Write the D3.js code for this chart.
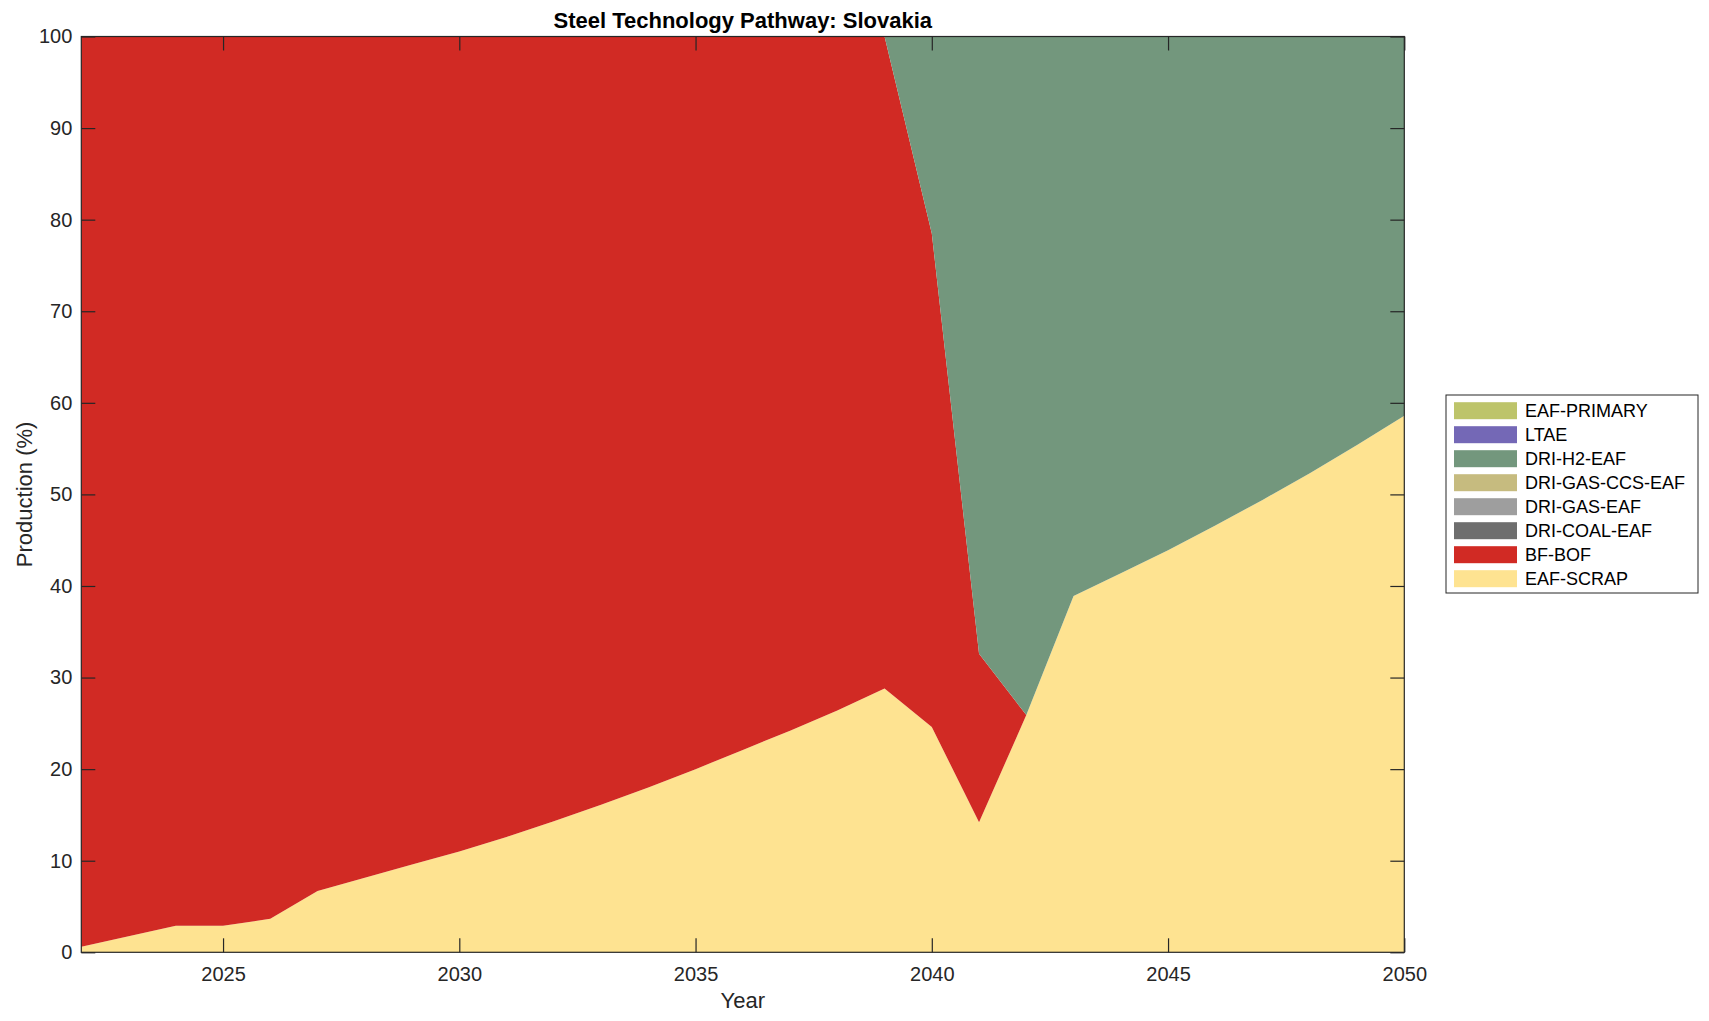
<!DOCTYPE html>
<html>
<head>
<meta charset="utf-8">
<script src="https://cdn.jsdelivr.net/npm/d3@7"></script>
<style>
  body { margin: 0; background: #fff; }
  text { font-family: "Liberation Sans", Arial, Helvetica, sans-serif; }
</style>
</head>
<body>
<div id="grafica"></div>
<script>
// Datos (porcentaje de produccion por tecnologia)
var years = [2022, 2023, 2024, 2025, 2026, 2027, 2028, 2029, 2030, 2031,
             2032, 2033, 2034, 2035, 2036, 2037, 2038, 2039, 2040, 2041,
             2042, 2043, 2044, 2045, 2046, 2047, 2048, 2049, 2050];

var eafScrap = [0.6, 1.75, 2.9, 2.9, 3.65, 6.7, 8.15, 9.6, 11.0, 12.6,
                14.3, 16.1, 18.0, 20.0, 22.1, 24.2, 26.4, 28.8, 24.6, 14.2,
                25.9, 38.9, 41.4, 43.9, 46.6, 49.4, 52.3, 55.4, 58.6];

var bfBof = [99.4, 98.25, 97.1, 97.1, 96.35, 93.3, 91.85, 90.4, 89.0, 87.4,
             85.7, 83.9, 82.0, 80.0, 77.9, 75.8, 73.6, 71.2, 53.9, 18.4,
             0, 0, 0, 0, 0, 0, 0, 0, 0];

var driCoal = [0, 0, 0, 0, 0, 0, 0, 0, 0, 0, 0, 0, 0, 0, 0,
               0, 0, 0, 0, 0, 0, 0, 0, 0, 0, 0, 0, 0, 0];
var driGas = [0, 0, 0, 0, 0, 0, 0, 0, 0, 0, 0, 0, 0, 0, 0,
              0, 0, 0, 0, 0, 0, 0, 0, 0, 0, 0, 0, 0, 0];
var driGasCcs = [0, 0, 0, 0, 0, 0, 0, 0, 0, 0, 0, 0, 0, 0, 0,
                 0, 0, 0, 0, 0, 0, 0, 0, 0, 0, 0, 0, 0, 0];

var driH2 = [0, 0, 0, 0, 0, 0, 0, 0, 0, 0,
             0, 0, 0, 0, 0, 0, 0, 0, 21.5, 67.4,
             74.1, 61.1, 58.6, 56.1, 53.4, 50.6, 47.7, 44.6, 41.4];

var ltae = [0, 0, 0, 0, 0, 0, 0, 0, 0, 0, 0, 0, 0, 0, 0,
            0, 0, 0, 0, 0, 0, 0, 0, 0, 0, 0, 0, 0, 0];
var eafPrimary = [0, 0, 0, 0, 0, 0, 0, 0, 0, 0, 0, 0, 0, 0, 0,
                  0, 0, 0, 0, 0, 0, 0, 0, 0, 0, 0, 0, 0, 0];

// orden de apilado, de abajo hacia arriba
var techNames = ["EAF-SCRAP", "BF-BOF", "DRI-COAL-EAF", "DRI-GAS-EAF",
                 "DRI-GAS-CCS-EAF", "DRI-H2-EAF", "LTAE", "EAF-PRIMARY"];
var techValues = [eafScrap, bfBof, driCoal, driGas, driGasCcs, driH2, ltae, eafPrimary];
var techColors = ["#fee391", "#d12a24", "#6e6e6e", "#9e9e9e",
                  "#c6bb7f", "#73977d", "#7468b6", "#bdc46a"];

var xTicks = [2025, 2030, 2035, 2040, 2045, 2050];
var yTicks = [0, 10, 20, 30, 40, 50, 60, 70, 80, 90, 100];

// tabla para d3.stack
var table = years.map(function(yr, i) {
  var row = { year: yr };
  techNames.forEach(function(name, k) { row[name] = techValues[k][i]; });
  return row;
});

var width = 1709, height = 1021;
// ojo: "top" es una global del navegador, por eso estos nombres
var plotLeft = 81.3, plotTop = 36.5, plotRight = 1404.3, plotBottom = 952.3;

var svg = d3.select("#grafica")
  .append("svg")
  .attr("width", width)
  .attr("height", height);

var x = d3.scaleLinear().domain([2022, 2050]).range([plotLeft, plotRight]);
var y = d3.scaleLinear().domain([0, 100]).range([plotBottom, plotTop]);

var series = d3.stack().keys(techNames)(table);

var area = d3.area()
  .x(function(d) { return x(d.data.year); })
  .y0(function(d) { return y(d[0]); })
  .y1(function(d) { return y(d[1]); });

svg.append("g")
  .selectAll("path")
  .data(series)
  .join("path")
  .attr("fill", function(d, i) { return techColors[i]; })
  .attr("d", area);

// ejes con marcas hacia dentro, como en MATLAB
var axisColor = "#262626";

var gx = svg.append("g")
  .attr("transform", "translate(0," + plotBottom + ")")
  .call(d3.axisBottom(x).tickValues(xTicks).tickFormat(d3.format("d"))
    .tickSizeInner(-14).tickSizeOuter(0).tickPadding(15));

var gy = svg.append("g")
  .attr("transform", "translate(" + plotLeft + ",0)")
  .call(d3.axisLeft(y).tickValues(yTicks)
    .tickSizeInner(-14).tickSizeOuter(0).tickPadding(9));

var gt = svg.append("g")
  .attr("transform", "translate(0," + plotTop + ")")
  .call(d3.axisTop(x).tickValues(xTicks).tickFormat("")
    .tickSizeInner(-14).tickSizeOuter(0));

var gr = svg.append("g")
  .attr("transform", "translate(" + plotRight + ",0)")
  .call(d3.axisRight(y).tickValues(yTicks).tickFormat("")
    .tickSizeInner(-14).tickSizeOuter(0));

[gx, gy, gt, gr].forEach(function(g) {
  g.select(".domain").remove();
  g.selectAll("line").attr("stroke", axisColor).attr("stroke-width", 1.2);
  g.selectAll("text")
    .attr("fill", axisColor)
    .style("font-size", "20px")
    .style("font-family", "'Liberation Sans', Arial, sans-serif");
});

// caja del area del grafico
svg.append("rect")
  .attr("x", plotLeft)
  .attr("y", plotTop)
  .attr("width", plotRight - plotLeft)
  .attr("height", plotBottom - plotTop)
  .attr("fill", "none")
  .attr("stroke", axisColor)
  .attr("stroke-width", 1.2);

// titulo y etiquetas
svg.append("text")
  .attr("x", (plotLeft + plotRight) / 2)
  .attr("y", 28)
  .attr("text-anchor", "middle")
  .style("font-size", "22px")
  .style("font-weight", "bold")
  .attr("fill", "#000")
  .text("Steel Technology Pathway: Slovakia");

svg.append("text")
  .attr("x", (plotLeft + plotRight) / 2)
  .attr("y", 1008)
  .attr("text-anchor", "middle")
  .style("font-size", "22px")
  .attr("fill", axisColor)
  .text("Year");

svg.append("text")
  .attr("transform", "translate(32," + ((plotTop + plotBottom) / 2) + ") rotate(-90)")
  .attr("text-anchor", "middle")
  .style("font-size", "22px")
  .attr("fill", axisColor)
  .text("Production (%)");

// leyenda (orden inverso al apilado)
var legend = svg.append("g");

legend.append("rect")
  .attr("x", 1446)
  .attr("y", 395)
  .attr("width", 252)
  .attr("height", 198)
  .attr("fill", "#fff")
  .attr("stroke", axisColor)
  .attr("stroke-width", 1);

var legendItems = techNames.slice().reverse();
var legendColors = techColors.slice().reverse();

var items = legend.selectAll("g.item")
  .data(legendItems)
  .join("g")
  .attr("class", "item")
  .attr("transform", function(d, i) { return "translate(0," + (410.7 + i * 24) + ")"; });

items.append("rect")
  .attr("x", 1454)
  .attr("y", -8.5)
  .attr("width", 63)
  .attr("height", 17)
  .attr("fill", function(d, i) { return legendColors[i]; });

items.append("text")
  .attr("x", 1525)
  .attr("dy", "0.35em")
  .style("font-size", "18px")
  .attr("fill", "#000")
  .text(function(d) { return d; });
</script>
</body>
</html>
